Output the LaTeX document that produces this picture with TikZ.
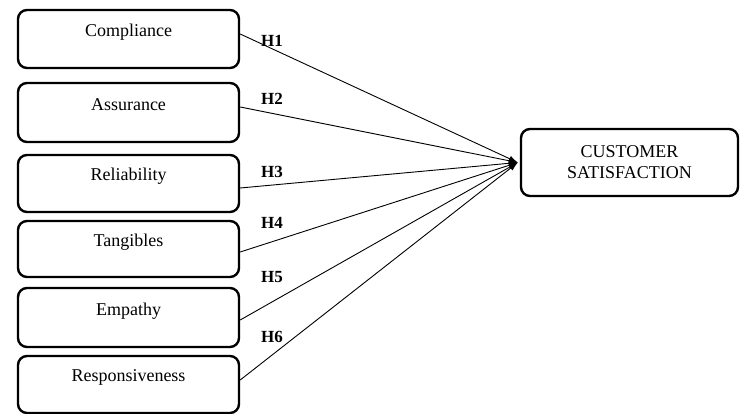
\documentclass[tikz,border=0pt]{standalone}
\usepackage{fontspec}
\setmainfont{Liberation Serif}
\usetikzlibrary{arrows.meta,calc}
\begin{document}
\begin{tikzpicture}[x=1pt,y=-1pt,
  box/.style={draw,line width=2.4pt,rounded corners=9pt,minimum width=221pt,inner sep=0pt},
  lbl/.style={font=\fontsize{18}{21}\selectfont,inner sep=0pt,anchor=center},
  hyp/.style={font=\fontsize{17}{20}\selectfont\bfseries,inner sep=0pt},
  conn/.style={line width=0.9pt,-{Latex[length=9pt,width=6pt]}}]
\useasboundingbox (0,0) rectangle (740,414);
\node[box,minimum height=58pt] (b1) at (128.5,39) {};
\node[box,minimum height=59pt] (b2) at (128.5,112.5) {};
\node[box,minimum height=57pt] (b3) at (128.5,183.5) {};
\node[box,minimum height=56pt] (b4) at (128.5,249) {};
\node[box,minimum height=59pt] (b5) at (128.5,317.5) {};
\node[box,minimum height=57pt] (b6) at (128.5,384.5) {};
\node[lbl] (t1) at (128.5,32) {Compliance};
\node[lbl] (t2) at (128.5,105) {Assurance};
\node[lbl] (t3) at (128.5,176) {Reliability};
\node[lbl] (t4) at (128.5,242) {Tangibles};
\node[lbl] (t5) at (128.5,311) {Empathy};
\node[lbl] (t6) at (128.5,377) {Responsiveness};
\node[box,minimum width=217pt,minimum height=67pt,align=center,font=\fontsize{18}{21}\selectfont] (cs) at (629.5,162.5) {CUSTOMER\\SATISFACTION};
\coordinate (tip) at ([xshift=-2pt]cs.west);
\draw[conn] ([yshift=5pt]b1.east) -- (tip);
\draw[conn] ([yshift=5.5pt]b2.east) -- (tip);
\draw[conn] ([yshift=-4.5pt]b3.east) -- (tip);
\draw[conn] ([yshift=-3pt]b4.east) -- (tip);
\draw[conn] ([yshift=-2.5pt]b5.east) -- (tip);
\draw[conn] ([yshift=4.5pt]b6.east) -- (tip);
\node[hyp] (h1) at (272,41) {H1};
\node[hyp] (h2) at (272,99) {H2};
\node[hyp] (h3) at (272,172) {H3};
\node[hyp] (h4) at (272,223) {H4};
\node[hyp] (h5) at (272,277) {H5};
\node[hyp] (h6) at (272,337) {H6};
\end{tikzpicture}
\end{document}
